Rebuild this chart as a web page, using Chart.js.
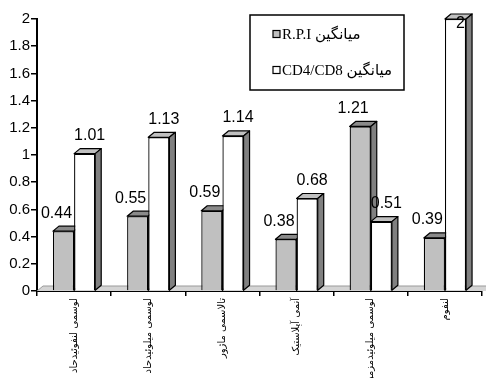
<!DOCTYPE html>
<html>
<head>
<meta charset="utf-8">
<script src="https://cdn.jsdelivr.net/npm/chart.js@4/dist/chart.umd.min.js"></script>
<style>
  html, body { margin: 0; padding: 0; background: #fff; }
  #wrap { width: 486px; height: 378px; position: relative; }
</style>
</head>
<body>
<div id="wrap"><canvas id="c" width="486" height="378"></canvas></div>
<script>
const categories = ['لوسمی لنفوئیدحاد', 'لوسمی میلوئیدحاد', 'تالاسمی ماژور', 'آنمی آپلاستیک', 'لوسمی میلوئیدمزمن', 'لنفوم'];
const rpiValues = [0.44, 0.55, 0.59, 0.38, 1.21, 0.39];
const cdValues = [1.01, 1.13, 1.14, 0.68, 0.51, 2];
const seriesNames = ['میانگین R.P.I', 'میانگین CD4/CD8'];
const yMin = 0, yMax = 2, yStep = 0.2;

const DX = 6, DY = 5;
const topColors = ['#8a8a8a', '#c0c0c0'];
const sideColor = '#808080';

const threeD = {
  id: 'threeD',
  beforeDatasetsDraw(chart) {
    const ctx = chart.ctx;
    const { left, right, bottom } = chart.chartArea;
    ctx.save();
    // floor
    ctx.beginPath();
    ctx.moveTo(left, bottom);
    ctx.lineTo(right + 4, bottom);
    ctx.lineTo(right + 4, bottom - DY);
    ctx.lineTo(left + DX, bottom - DY);
    ctx.closePath();
    ctx.fillStyle = '#d4d4d4';
    ctx.fill();
    ctx.strokeStyle = '#9a9a9a';
    ctx.lineWidth = 1;
    ctx.beginPath();
    ctx.moveTo(left, bottom);
    ctx.lineTo(left + DX, bottom - DY);
    ctx.lineTo(right + 4, bottom - DY);
    ctx.stroke();
    // top and side faces
    const metas = [chart.getDatasetMeta(0), chart.getDatasetMeta(1)];
    ctx.strokeStyle = '#000';
    ctx.lineWidth = 1.2;
    ctx.lineJoin = 'round';
    for (let i = 0; i < categories.length; i++) {
      metas.forEach((meta, d) => {
        const el = meta.data[i];
        const x0 = el.x - el.width / 2, x1 = el.x + el.width / 2;
        const yt = el.y, yb = el.base;
        ctx.beginPath();
        ctx.moveTo(x0, yt);
        ctx.lineTo(x1, yt);
        ctx.lineTo(x1 + DX, yt - DY);
        ctx.lineTo(x0 + DX, yt - DY);
        ctx.closePath();
        ctx.fillStyle = topColors[d];
        ctx.fill();
        ctx.stroke();
        ctx.beginPath();
        ctx.moveTo(x1, yt);
        ctx.lineTo(x1 + DX, yt - DY);
        ctx.lineTo(x1 + DX, yb - DY);
        ctx.lineTo(x1, yb);
        ctx.closePath();
        ctx.fillStyle = sideColor;
        ctx.fill();
        ctx.stroke();
      });
    }
    ctx.restore();
  },
  afterDatasetsDraw(chart) {
    const ctx = chart.ctx;
    ctx.save();
    ctx.fillStyle = '#000';
    ctx.font = '16px "Liberation Sans", Arial, sans-serif';
    ctx.textAlign = 'center';
    ctx.textBaseline = 'middle';
    chart.data.datasets.forEach((ds, d) => {
      const meta = chart.getDatasetMeta(d);
      meta.data.forEach((el, i) => {
        const v = ds.data[i];
        const x = el.x + (d === 0 ? -7 : 5);
        const y = Math.max(el.y - 18, 24);
        ctx.fillText(String(v), x, y);
      });
    });
    ctx.restore();
  },
  afterDraw(chart) {
    const ctx = chart.ctx;
    ctx.save();
    // legend box
    const bx = 250, by = 15, bw = 154, bh = 75;
    ctx.fillStyle = '#fff';
    ctx.fillRect(bx, by, bw, bh);
    ctx.strokeStyle = '#000';
    ctx.lineWidth = 1.5;
    ctx.strokeRect(bx, by, bw, bh);
    const rows = [34, 70];
    chart.data.datasets.forEach((ds, d) => {
      const cy = rows[d];
      ctx.fillStyle = ds.backgroundColor;
      ctx.fillRect(273, cy - 3.5, 7, 7);
      ctx.strokeStyle = '#000';
      ctx.lineWidth = 1.2;
      ctx.strokeRect(273, cy - 3.5, 7, 7);
      ctx.fillStyle = '#000';
      ctx.font = '15px "Liberation Serif", "DejaVu Sans", serif';
      ctx.direction = 'rtl';
      ctx.textAlign = 'left';
      ctx.textBaseline = 'middle';
      ctx.fillText(ds.label, 282, cy + 1);
    });
    ctx.restore();
  }
};

new Chart(document.getElementById('c'), {
  type: 'bar',
  data: {
    labels: categories,
    datasets: [
      { label: seriesNames[0], data: rpiValues, backgroundColor: '#c0c0c0', borderColor: '#000', borderWidth: 1.3,
        categoryPercentage: 0.57, barPercentage: 1 },
      { label: seriesNames[1], data: cdValues, backgroundColor: '#ffffff', borderColor: '#000', borderWidth: 1.3,
        categoryPercentage: 0.57, barPercentage: 1 }
    ]
  },
  plugins: [threeD],
  options: {
    responsive: false,
    animation: false,
    devicePixelRatio: 1,
    layout: { padding: { top: 19, right: 4, left: 0, bottom: 0 } },
    plugins: { legend: { display: false }, tooltip: { enabled: false } },
    scales: {
      x: {
        offset: true,
        grid: { display: true, drawOnChartArea: false, drawTicks: true, tickLength: 5, color: '#000', lineWidth: 1.5, offset: true },
        border: { display: true, color: '#000', width: 2 },
        ticks: {
          autoSkip: false, maxRotation: 90, minRotation: 90, color: '#000', padding: 2,
          font: { family: '"DejaVu Sans", sans-serif', size: 10 }
        },
        afterFit(scale) { scale.height = 87; }
      },
      y: {
        min: yMin, max: yMax,
        grid: { display: true, drawOnChartArea: false, drawTicks: true, tickLength: 6, color: '#000', lineWidth: 1.5 },
        border: { display: true, color: '#000', width: 2 },
        ticks: {
          stepSize: yStep, color: '#000', padding: 1,
          font: { family: '"Liberation Sans", Arial, sans-serif', size: 15 },
          callback: v => String(+v.toFixed(1))
        },
        afterFit(scale) { scale.width = 37; }
      }
    }
  }
});
</script>
</body>
</html>
